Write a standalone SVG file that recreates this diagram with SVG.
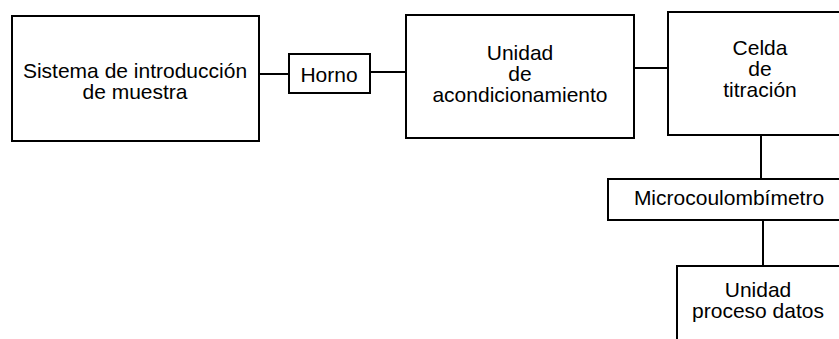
<svg xmlns="http://www.w3.org/2000/svg" width="839" height="339" viewBox="0 0 839 339">
<style>
.box{fill:none;stroke:#000;stroke-width:2}
.ln{stroke:#000;stroke-width:2;fill:none}
text{font-family:"Liberation Sans",Arial,sans-serif;font-size:21px;fill:#000;text-anchor:middle}
</style>
<rect width="839" height="339" fill="#fff"/>
<g id="connectors">
<line class="ln" x1="259" y1="74" x2="289" y2="74"/>
<line class="ln" x1="370" y1="72" x2="406" y2="72"/>
<line class="ln" x1="634" y1="68" x2="668" y2="68"/>
<line class="ln" x1="761" y1="135" x2="761" y2="179"/>
<line class="ln" x1="763" y1="220" x2="763" y2="266"/>
</g>
<g id="sistema">
<rect class="box" x="12" y="16" width="247" height="125"/>
<text x="135" y="78">Sistema de introducción</text>
<text x="135" y="99">de muestra</text>
</g>
<g id="horno">
<rect class="box" x="289" y="54" width="81" height="39"/>
<text x="329" y="82">Horno</text>
</g>
<g id="acondicionamiento">
<rect class="box" x="406" y="15" width="228" height="123"/>
<text x="520" y="60">Unidad</text>
<text x="520" y="81">de</text>
<text x="520" y="102">acondicionamiento</text>
</g>
<g id="celda">
<rect class="box" x="668" y="12" width="190" height="123"/>
<text x="760" y="55">Celda</text>
<text x="760" y="76">de</text>
<text x="760" y="97">titración</text>
</g>
<g id="microcoulombimetro">
<rect class="box" x="608" y="179" width="245" height="41"/>
<text x="729" y="205">Microcoulombímetro</text>
</g>
<g id="proceso">
<rect class="box" x="677" y="266" width="180" height="100"/>
<text x="758" y="297">Unidad</text>
<text x="758" y="318">proceso datos</text>
</g>
</svg>
